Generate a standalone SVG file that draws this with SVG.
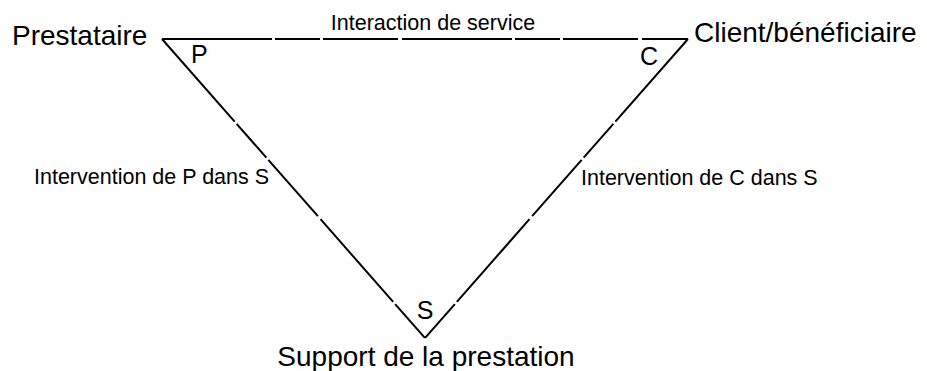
<svg xmlns="http://www.w3.org/2000/svg" width="927" height="371" viewBox="0 0 927 371">
<style>
.big{font-family:"Liberation Sans",Arial,sans-serif;font-size:28px;fill:#000}
.lbl{font-family:"Liberation Sans",Arial,sans-serif;font-size:21.5px;fill:#000}
.corner{font-family:"Liberation Sans",Arial,sans-serif;font-size:25px;fill:#000}
.edge{stroke:#000;stroke-width:2;fill:none;stroke-dasharray:110 3 45 3 75 4}
</style>
<rect width="927" height="371" fill="#fff"/>
<g id="connectors">
<line class="edge" x1="162" y1="39" x2="688" y2="39"/>
<line class="edge" x1="162" y1="39" x2="425" y2="338"/>
<line class="edge" x1="688" y1="39" x2="425" y2="338"/>
<text class="lbl" x="433" y="30" text-anchor="middle">Interaction de service</text>
<text class="lbl" x="34" y="184">Intervention de P dans S</text>
<text class="lbl" x="581" y="185">Intervention de C dans S</text>
</g>
<g id="prestataire">
<text class="big" x="12" y="45">Prestataire</text>
<text class="corner" x="191" y="63">P</text>
</g>
<g id="client">
<text class="big" x="694" y="42">Client/bénéficiaire</text>
<text class="corner" x="640" y="65">C</text>
</g>
<g id="support">
<text class="big" x="426" y="366" text-anchor="middle">Support de la prestation</text>
<text class="corner" x="425" y="319" text-anchor="middle">S</text>
</g>
</svg>
